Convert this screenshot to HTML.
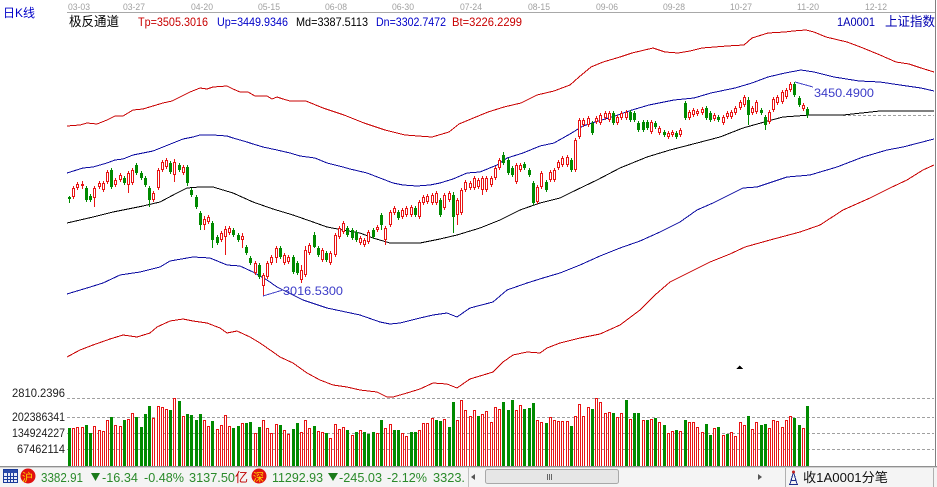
<!DOCTYPE html>
<html><head><meta charset="utf-8">
<style>
html,body{margin:0;padding:0;background:#fff;}
body{width:937px;height:487px;overflow:hidden;position:relative;}
svg{position:absolute;left:0;top:0;}
</style></head><body>
<svg id="s" width="937" height="487" viewBox="0 0 937 487" xmlns="http://www.w3.org/2000/svg" shape-rendering="crispEdges" font-family="'Liberation Sans','Noto Sans CJK SC',sans-serif">
<rect x="0" y="0" width="937" height="487" fill="#fff"/>
<!-- top -->
<text x="3" y="17" font-size="12" fill="#0000c8">日K线</text>
<rect x="67" y="12" width="869" height="1" fill="#a8a8a8"/>
<g font-size="9.5" fill="#a0a0a0">
<text x="68" y="10" textLength="22" lengthAdjust="spacingAndGlyphs">03-03</text>
<text x="123" y="10" textLength="22" lengthAdjust="spacingAndGlyphs">03-27</text>
<text x="191" y="10" textLength="22" lengthAdjust="spacingAndGlyphs">04-20</text>
<text x="258" y="10" textLength="22" lengthAdjust="spacingAndGlyphs">05-15</text>
<text x="325" y="10" textLength="22" lengthAdjust="spacingAndGlyphs">06-08</text>
<text x="392" y="10" textLength="22" lengthAdjust="spacingAndGlyphs">06-30</text>
<text x="460" y="10" textLength="22" lengthAdjust="spacingAndGlyphs">07-24</text>
<text x="528" y="10" textLength="22" lengthAdjust="spacingAndGlyphs">08-15</text>
<text x="596" y="10" textLength="22" lengthAdjust="spacingAndGlyphs">09-06</text>
<text x="663" y="10" textLength="22" lengthAdjust="spacingAndGlyphs">09-28</text>
<text x="730" y="10" textLength="22" lengthAdjust="spacingAndGlyphs">10-27</text>
<text x="797" y="10" textLength="22" lengthAdjust="spacingAndGlyphs">11-20</text>
<text x="865" y="10" textLength="22" lengthAdjust="spacingAndGlyphs">12-12</text>
</g>
<text x="69" y="26" font-size="13" fill="#000" textLength="50" lengthAdjust="spacingAndGlyphs">极反通道</text>
<g font-size="12">
<text x="138" y="26" fill="#c80000" textLength="70" lengthAdjust="spacingAndGlyphs">Tp=3505.3016</text>
<text x="217" y="26" fill="#0000c8" textLength="71" lengthAdjust="spacingAndGlyphs">Up=3449.9346</text>
<text x="296" y="26" fill="#000" textLength="72" lengthAdjust="spacingAndGlyphs">Md=3387.5113</text>
<text x="376" y="26" fill="#0000c8" textLength="70" lengthAdjust="spacingAndGlyphs">Dn=3302.7472</text>
<text x="452" y="26" fill="#c80000" textLength="70" lengthAdjust="spacingAndGlyphs">Bt=3226.2299</text>
<text x="837" y="26" fill="#0000b0" textLength="38" lengthAdjust="spacingAndGlyphs">1A0001</text>
</g>
<text x="885" y="26" font-size="13" fill="#0000b0" textLength="50" lengthAdjust="spacingAndGlyphs">上证指数</text>
<rect x="935" y="0" width="1" height="466" fill="#808080"/>

<!-- dashed grid -->
<g stroke="#a0a0a0" stroke-width="1" stroke-dasharray="3,2" fill="none">
<line x1="67" y1="398.5" x2="934" y2="398.5"/>
<line x1="67" y1="417.5" x2="934" y2="417.5"/>
<line x1="67" y1="433.5" x2="934" y2="433.5"/>
<line x1="67" y1="449.5" x2="934" y2="449.5"/>
<line x1="843" y1="115.5" x2="934" y2="115.5"/>
</g>
<g font-size="12" fill="#222" text-anchor="end">
<text x="65" y="397" textLength="53" lengthAdjust="spacingAndGlyphs">2810.2396</text>
<text x="65" y="421" textLength="53" lengthAdjust="spacingAndGlyphs">202386341</text>
<text x="65" y="437" textLength="53" lengthAdjust="spacingAndGlyphs">134924227</text>
<text x="65" y="453" textLength="48" lengthAdjust="spacingAndGlyphs">67462114</text>
</g>

<!-- curves -->
<g fill="none" stroke-width="1">
<polyline stroke="#c80000" points="67,126 80,125 87,123 97,124 107,120 115,116 123,116 133,110 143,109 153,106 163,103 172,101 180,97 190,92 200,88 207,89 213,87 227,86 233,89 240,92 248,92 255,96 267,96 272,99 277,97 283,99 290,101 306,101 323,108 344,115 364,123 385,130 405,135 418,136 432,137 449,132 459,124 471,119 488,112 504,107 521,103 537,95 554,91 570,85 579,77 591,67 603,62 620,57 632,53 653,48 665,52 678,53 690,51 702,48 727,46 744,45 752,38 768,33 785,32 793,31 806,30 814,32 826,37 847,42 863,48 880,55 896,62 909,64 921,68 934,72"/>
<polyline stroke="#0a0aa0" points="67,173 83,168 93,167 107,163 115,160 123,159 133,155 143,153 153,151 163,147 173,143 183,139 193,137 200,135 213,135 227,136 233,138 247,142 253,144 263,147 277,150 290,153 300,156 315,158 327,163 343,167 350,169 367,173 380,178 393,183 403,185 417,186 430,185 440,183 453,179 467,173 480,172 497,165 507,158 523,153 540,146 554,143 570,134 583,126 595,122 612,117 632,110 649,105 674,100 694,98 711,93 735,88 752,83 768,77 785,73 801,70 814,72 834,77 859,81 880,82 900,85 921,88 934,91"/>
<polyline stroke="#000" points="67,223 93,217 113,212 143,206 160,202 177,193 187,188 200,187 213,187 233,193 253,202 273,209 293,215 313,222 327,227 343,230 360,233 373,238 390,243 420,243 440,239 457,235 480,228 500,220 520,210 540,203 560,198 570,193 597,180 620,168 647,157 670,150 697,143 720,137 743,128 768,121 783,117 797,116 810,115 843,115 880,111 934,111"/>
<polyline stroke="#0a0aa0" points="67,294 87,288 103,283 120,275 140,272 160,267 170,261 193,257 210,258 227,265 240,266 253,272 267,280 277,287 303,300 327,308 360,315 380,322 390,324 400,323 420,318 433,315 447,313 457,317 470,308 493,302 507,290 527,283 543,278 560,273 580,265 600,256 620,248 640,241 660,232 680,222 697,210 713,203 743,188 757,187 787,177 810,175 837,167 863,157 887,150 903,147 934,139"/>
<polyline stroke="#c80000" points="67,357 80,350 93,345 110,339 123,335 137,337 150,333 157,327 170,321 183,319 193,321 207,323 220,328 227,333 237,331 250,337 260,343 273,352 280,357 293,363 307,373 320,380 333,385 347,387 360,390 377,392 387,397 393,397 407,393 420,389 433,383 447,384 457,388 470,379 480,376 493,372 503,362 513,355 527,352 540,353 547,348 560,343 580,338 600,334 620,325 640,310 655,295 670,282 690,272 710,262 730,254 745,247 770,240 800,232 820,225 843,210 870,198 890,188 907,180 923,170 934,165"/>
</g>
<g id="cand"></g>
<g id="vol"></g>

<!-- annotations -->
<line x1="795" y1="82" x2="813" y2="87" stroke="#4646c8"/>
<text x="814" y="97" font-size="12" fill="#3c3cc8" textLength="60" lengthAdjust="spacingAndGlyphs">3450.4900</text>
<line x1="263" y1="296" x2="283" y2="290" stroke="#4646c8"/>
<text x="283" y="295" font-size="12" fill="#3c3cc8" textLength="60" lengthAdjust="spacingAndGlyphs">3016.5300</text>
<polygon points="736,369 739.5,365.5 743,369" fill="#000"/>

<!-- status bar -->
<rect x="0" y="466" width="937" height="1" fill="#909090"/>
<rect x="0" y="467" width="937" height="1" fill="#d0d0d0"/>
<rect x="0" y="468" width="937" height="19" fill="#f4f4f4"/>
<rect x="3.5" y="469.5" width="14" height="13" fill="#e8ecf8" stroke="#1a3a9a"/>
<rect x="4" y="470" width="13" height="3" fill="#2a4aaa"/>
<g stroke="#1a3a9a" stroke-width="1">
<line x1="4" y1="476.5" x2="17" y2="476.5"/><line x1="4" y1="479.5" x2="17" y2="479.5"/>
<line x1="7.5" y1="473" x2="7.5" y2="482"/><line x1="10.5" y1="473" x2="10.5" y2="482"/><line x1="13.5" y1="473" x2="13.5" y2="482"/>
</g>
<circle cx="28" cy="476" r="7.5" fill="#e01010" shape-rendering="auto"/>
<text x="22" y="481" font-size="11" fill="#ffd800">沪</text>
<g font-size="13" fill="#2a8a2a">
<text x="41" y="482" textLength="42" lengthAdjust="spacingAndGlyphs">3382.91</text>
<text x="102" y="482" textLength="36" lengthAdjust="spacingAndGlyphs">-16.34</text>
<text x="144" y="482" textLength="40" lengthAdjust="spacingAndGlyphs">-0.48%</text>
<text x="189" y="482" textLength="46" lengthAdjust="spacingAndGlyphs">3137.50</text>
<text x="272" y="482" textLength="51" lengthAdjust="spacingAndGlyphs">11292.93</text>
<text x="339" y="482" textLength="43" lengthAdjust="spacingAndGlyphs">-245.03</text>
<text x="387" y="482" textLength="40" lengthAdjust="spacingAndGlyphs">-2.12%</text>
<text x="433" y="482" textLength="32" lengthAdjust="spacingAndGlyphs">3323.</text>
</g>
<polygon points="91,473 100,473 95.5,481" fill="#1a7a1a" shape-rendering="auto"/>
<polygon points="328,473 338,473 333,481" fill="#1a7a1a" shape-rendering="auto"/>
<text x="235" y="482" font-size="13" fill="#c00000">亿</text>
<circle cx="259" cy="476" r="7.5" fill="#e01010" shape-rendering="auto"/>
<text x="253" y="481" font-size="11" fill="#ffd800">深</text>
<!-- scrollbar -->
<rect x="468" y="468" width="1" height="19" fill="#c0c0c0"/>
<polygon points="471,477 475,474 475,480" fill="#555" shape-rendering="auto"/>
<rect x="485.5" y="469.5" width="133" height="14" rx="2" fill="#e6e6e6" stroke="#a8a8a8" shape-rendering="auto"/>
<rect x="547" y="474" width="1" height="6" fill="#666"/>
<rect x="549" y="474" width="1" height="6" fill="#666"/>
<rect x="551" y="474" width="1" height="6" fill="#666"/>
<polygon points="758,474 762,477 758,480" fill="#555" shape-rendering="auto"/>
<rect x="785" y="468" width="1" height="19" fill="#b0b0b0"/>
<g stroke="#1a2a8a" fill="none">
<line x1="793.5" y1="472" x2="790" y2="484"/><line x1="793.5" y1="472" x2="797" y2="484"/>
<line x1="791" y1="480.5" x2="796" y2="480.5"/><line x1="789" y1="484.5" x2="798" y2="484.5"/>
</g>
<circle cx="793.5" cy="472" r="1.5" fill="#c02020" shape-rendering="auto"/>
<text x="803" y="482" font-size="13" fill="#111" textLength="85" lengthAdjust="spacingAndGlyphs">收1A0001分笔</text>
<rect x="933" y="468" width="1" height="19" fill="#b0b0b0"/>
</svg>
<script>
var C=[[0,197,199,196,203],[1,188,197],[1,184,188],[1,184,186,181,189],[0,188,200],[0,196,200],[1,188,198,186,207],[1,183,187],[1,183,190],[1,172,182],[0,170,187],[1,180,185],[1,175,180],[0,178,183],[1,173,185,171,193],[1,170,183],[0,165,173],[0,173,178],[0,178,185],[0,188,200,186,207],[1,193,200],[1,170,188],[1,162,170],[1,160,167],[0,163,172],[1,162,175,159,182],[0,165,170],[1,167,173],[0,167,183,165,186],[0,190,195],[0,197,207],[0,213,225,211,230],[1,219,225,216,230],[1,217,222],[0,223,240,221,248],[0,237,243],[1,233,240],[1,229,237,226,255],[1,228,233],[0,230,235],[0,235,240],[1,236,240,233,248],[0,247,253],[0,258,263],[1,263,273],[0,265,277],[1,275,286,273,296],[1,263,277],[1,257,263],[1,248,258,246,263],[0,248,257],[1,255,263],[1,257,262],[0,257,272],[0,263,273],[1,270,280,265,283],[1,250,275,246,277],[1,245,253],[0,235,247,232,248],[0,248,255],[1,250,260],[0,253,260],[1,253,263],[1,235,255],[1,228,237],[1,223,232],[0,228,235],[0,230,238],[0,232,240],[1,238,243],[1,240,245],[1,232,242],[0,230,237],[1,227,230],[0,215,225,213,230],[1,228,240,226,245],[1,212,225],[1,208,213],[0,212,218],[1,210,217],[1,208,215],[1,207,215],[0,208,215],[1,202,217],[1,197,203],[1,196,202],[1,195,203],[1,193,203],[0,200,215],[1,195,208],[1,193,200],[0,195,217,192,233],[1,200,215,198,225],[1,190,213],[1,182,190],[1,183,188],[1,178,188],[1,180,187],[1,178,190,176,195],[1,178,190],[1,178,185],[1,168,178],[1,160,168],[0,155,163,152,165],[0,160,173],[0,168,175],[1,165,182],[1,165,170],[0,164,168],[0,170,175],[0,183,203],[1,187,202],[1,173,187],[0,182,190],[1,172,180],[1,170,180],[1,162,168],[1,158,165],[1,157,165],[0,160,170],[1,140,170],[1,120,137],[1,120,125],[1,118,125],[0,123,133],[1,118,122],[1,115,123],[1,113,118],[1,113,120],[0,113,123],[1,117,123],[1,113,118],[1,112,118],[0,112,120],[0,113,120],[0,123,130],[0,122,130],[0,122,128],[1,122,132],[0,123,127],[1,128,133],[0,132,135],[1,133,137],[1,132,135],[0,133,137],[1,130,135],[0,103,118],[1,112,118],[1,110,115],[1,111,114],[1,109,113],[0,108,118],[0,113,120],[1,115,119],[0,117,120],[1,117,123],[1,113,117],[1,112,117],[1,108,113],[1,102,108],[1,97,105],[0,100,115,97,125],[1,108,113],[1,102,112],[0,110,113],[0,117,125,115,130],[1,112,122],[1,99,110],[1,97,103],[1,92,102],[1,90,97],[1,84,90,82,92],[0,84,95,82,97],[0,98,105],[1,105,109],[0,109,115,107,118]];
var V=[[0,145],[1,145],[1,140],[1,142],[0,135],[0,158],[1,138],[1,150],[1,153],[1,120],[0,111],[1,135],[1,138],[0,120],[1,117],[1,100],[0,111],[0,140],[0,102],[0,78],[1,113],[1,78],[1,82],[1,87],[0,90],[1,55],[0,63],[1,108],[0,102],[0,105],[0,120],[0,102],[1,120],[1,137],[0,123],[1,148],[1,135],[1,105],[1,138],[0,143],[0,138],[1,128],[0,128],[0,126],[1,158],[0,141],[1,120],[1,143],[1,158],[1,132],[0,135],[1,150],[1,162],[0,147],[0,128],[1,155],[1,120],[1,145],[0,138],[1,152],[1,155],[0,160],[1,175],[1,132],[1,148],[1,142],[0,150],[1,165],[0,157],[1,150],[0,155],[0,162],[0,157],[1,160],[0,120],[1,145],[1,132],[0,150],[0,150],[1,160],[1,168],[0,157],[0,157],[1,150],[1,130],[1,130],[1,115],[0,120],[0,123],[1,117],[0,142],[0,67],[1,120],[1,60],[1,90],[1,108],[1,90],[0,108],[1,102],[1,93],[1,125],[1,82],[1,87],[0,67],[0,90],[0,60],[1,90],[1,75],[0,87],[0,83],[0,70],[1,120],[1,125],[0,130],[1,112],[1,120],[1,123],[1,123],[1,123],[0,138],[1,108],[1,72],[1,108],[1,80],[0,88],[1,55],[1,67],[1,100],[1,95],[0,98],[1,110],[1,100],[0,60],[1,117],[0,98],[0,98],[1,120],[0,120],[1,117],[0,115],[1,125],[0,135],[1,160],[1,153],[0,150],[1,153],[0,120],[1,125],[1,125],[1,140],[1,155],[0,132],[0,165],[1,145],[0,142],[1,165],[0,162],[1,157],[1,168],[1,127],[1,135],[0,108],[1,148],[1,125],[0,135],[0,133],[1,145],[1,120],[1,122],[1,140],[1,120],[1,108],[0,115],[0,135],[1,145],[0,78]];
(function(){
var RC='#e81414',GC='#008a00',h='',i;
function r(x,y,w,hh,c){return '<rect x="'+x+'" y="'+y+'" width="'+w+'" height="'+hh+'" fill="'+c+'"/>';}
var N=C.length,st=(807-69)/(N-1);
for(i=0;i<N;i++){var d=C[i],cx=Math.round(69+i*st),c=d[0]?RC:GC,t=d[1],b=d[2];
 if(b-t<1)b=t+1;
 var wt=d.length>3?d[3]:t-2,wb=d.length>4?d[4]:b+2;
 if(wt<t)h+=r(cx,wt,1,t-wt,c);
 if(wb>b)h+=r(cx,b,1,wb-b,c);
 h+=r(cx-1,t,3,b-t,c);
 if(d[0]&&b-t>2)h+=r(cx,t+1,1,b-t-2,'#fff');}
document.getElementById('cand').innerHTML=h;
h='';var M=V.length,sv=(807-69)/(M-1);
for(i=0;i<M;i++){var v=V[i],x=Math.round(69+i*sv),c2=v[0]?RC:GC,tt=Math.round(380+v[1]/3),bb=466;
 h+=r(x-1,tt,3,bb-tt,c2);
 if(v[0])h+=r(x,tt+1,1,bb-tt-1,'#fff');}
document.getElementById('vol').innerHTML=h;
})();
</script>
</body></html>
